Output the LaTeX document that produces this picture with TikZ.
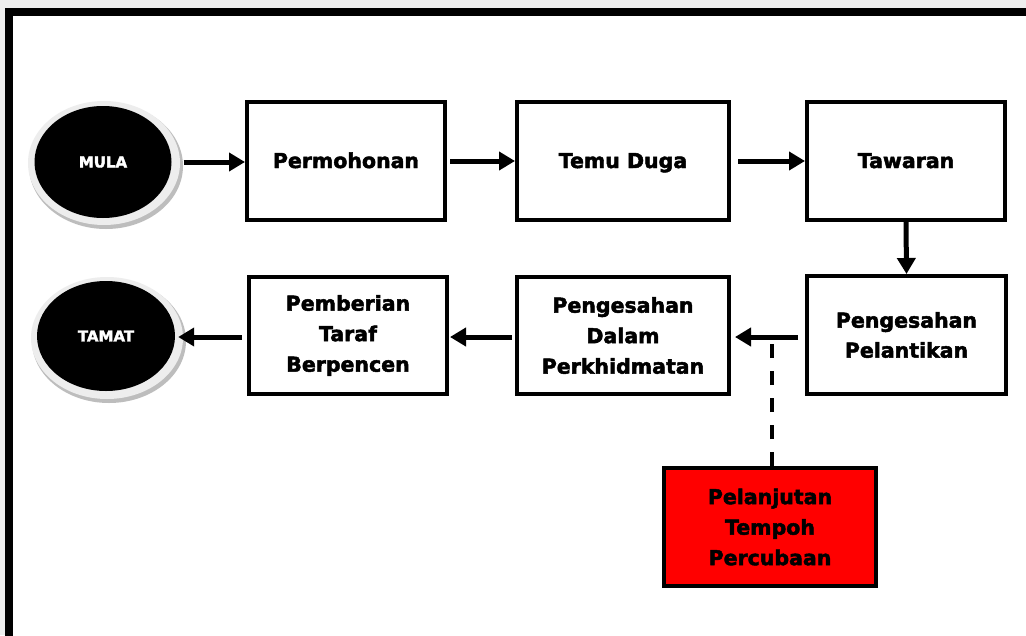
\documentclass[tikz,border=0pt]{standalone}
\usepackage{fontspec}
\setmainfont{DejaVu Sans}
\newfontfamily\heavyfont{DejaVu Sans Bold}[FakeBold=2.3]
\usetikzlibrary{arrows.meta,shapes.geometric}
\definecolor{bggrey}{HTML}{EEEEEE}
\definecolor{ringgrey}{HTML}{EDEDED}
\definecolor{shadowgrey}{HTML}{BDBDBD}
\tikzset{
  stepbox/.style={draw=black, line width=4pt, fill=white, inner sep=0pt,
    align=center, font=\fontsize{20.5}{30.5}\selectfont\heavyfont},
  oneline/.style={text height=17pt, text depth=3pt},
  endpoint/.style={ellipse, fill=black, inner sep=0pt, text=white,
    font=\fontsize{15}{18}\selectfont\heavyfont},
  flowarrow/.style={line width=5pt, -{Triangle[length=16pt,width=18pt]}},
  dashlink/.style={line width=4pt, dash pattern=on 14pt off 13pt},
}
\begin{document}
\begin{tikzpicture}[x=1pt,y=-1pt]
\useasboundingbox (0,0) rectangle (1026,635);
% background and frame
\fill[bggrey] (0,0) rectangle (1026,635);
\fill[white] (9,12) rectangle (1026,635);
\draw[line width=8.5pt, line join=miter] (9,640) -- (9,12) -- (1030,12);

% end-point ellipses with halo
\fill[shadowgrey] (106,166) ellipse [x radius=77, y radius=63];
\fill[ringgrey] (104,163) ellipse [x radius=76, y radius=62];
\node[endpoint, minimum width=137pt, minimum height=112pt] (mula) at (103,162) {MULA};

\fill[shadowgrey] (109,341) ellipse [x radius=77, y radius=62];
\fill[ringgrey] (107,338) ellipse [x radius=76, y radius=61];
\node[endpoint, minimum width=138pt, minimum height=110pt] (tamat) at (106,336) {TAMAT};

% row 1
\node[stepbox, oneline, minimum width=198pt, minimum height=118pt] (perm) at (346,161) {Permohonan};
\node[stepbox, oneline, minimum width=212pt, minimum height=118pt] (temu) at (623,161) {Temu Duga};
\node[stepbox, oneline, minimum width=198pt, minimum height=118pt] (taw) at (906,161) {Tawaran};

% row 2
\node[stepbox, minimum width=199pt, minimum height=118pt] (pel) at (906.5,335) {\raisebox{-2pt}{\shortstack{Pengesahan\\[7pt]Pelantikan}}};
\node[stepbox, minimum width=212pt, minimum height=117pt] (dalam) at (623,335.5) {Pengesahan\\Dalam\\Perkhidmatan};
\node[stepbox, minimum width=198pt, minimum height=117pt] (beri) at (348,335.5) {Pemberian\\Taraf\\Berpencen};

% red box
\node[stepbox, fill=red, minimum width=212pt, minimum height=118pt] (lanjut) at (770,527) {Pelanjutan\\Tempoh\\Percubaan};

% connectors
\draw[flowarrow, shorten <=12pt, shorten >=0pt] (mula.east) -- (mula.east -| perm.west);
\draw[flowarrow, shorten <=3pt, shorten >=0pt] (perm.east) -- (temu.west);
\draw[flowarrow, shorten <=7pt, shorten >=0pt] (temu.east) -- (taw.west);
\draw[flowarrow] (taw.south) -- (pel.north);

\coordinate (row2l) at (0,337);
\draw[flowarrow, shorten <=7pt, shorten >=4pt] (pel.west |- row2l) -- (dalam.east |- row2l);
\draw[flowarrow, shorten <=3pt, shorten >=1pt] (dalam.west |- row2l) -- (beri.east |- row2l);
\draw[flowarrow, shorten <=5pt, shorten >=3pt] (beri.west |- row2l) -- (tamat.east |- row2l);

\coordinate (dashtop) at (772,338);
\draw[dashlink] (lanjut.north -| dashtop) -- (dashtop);
\end{tikzpicture}
\end{document}
